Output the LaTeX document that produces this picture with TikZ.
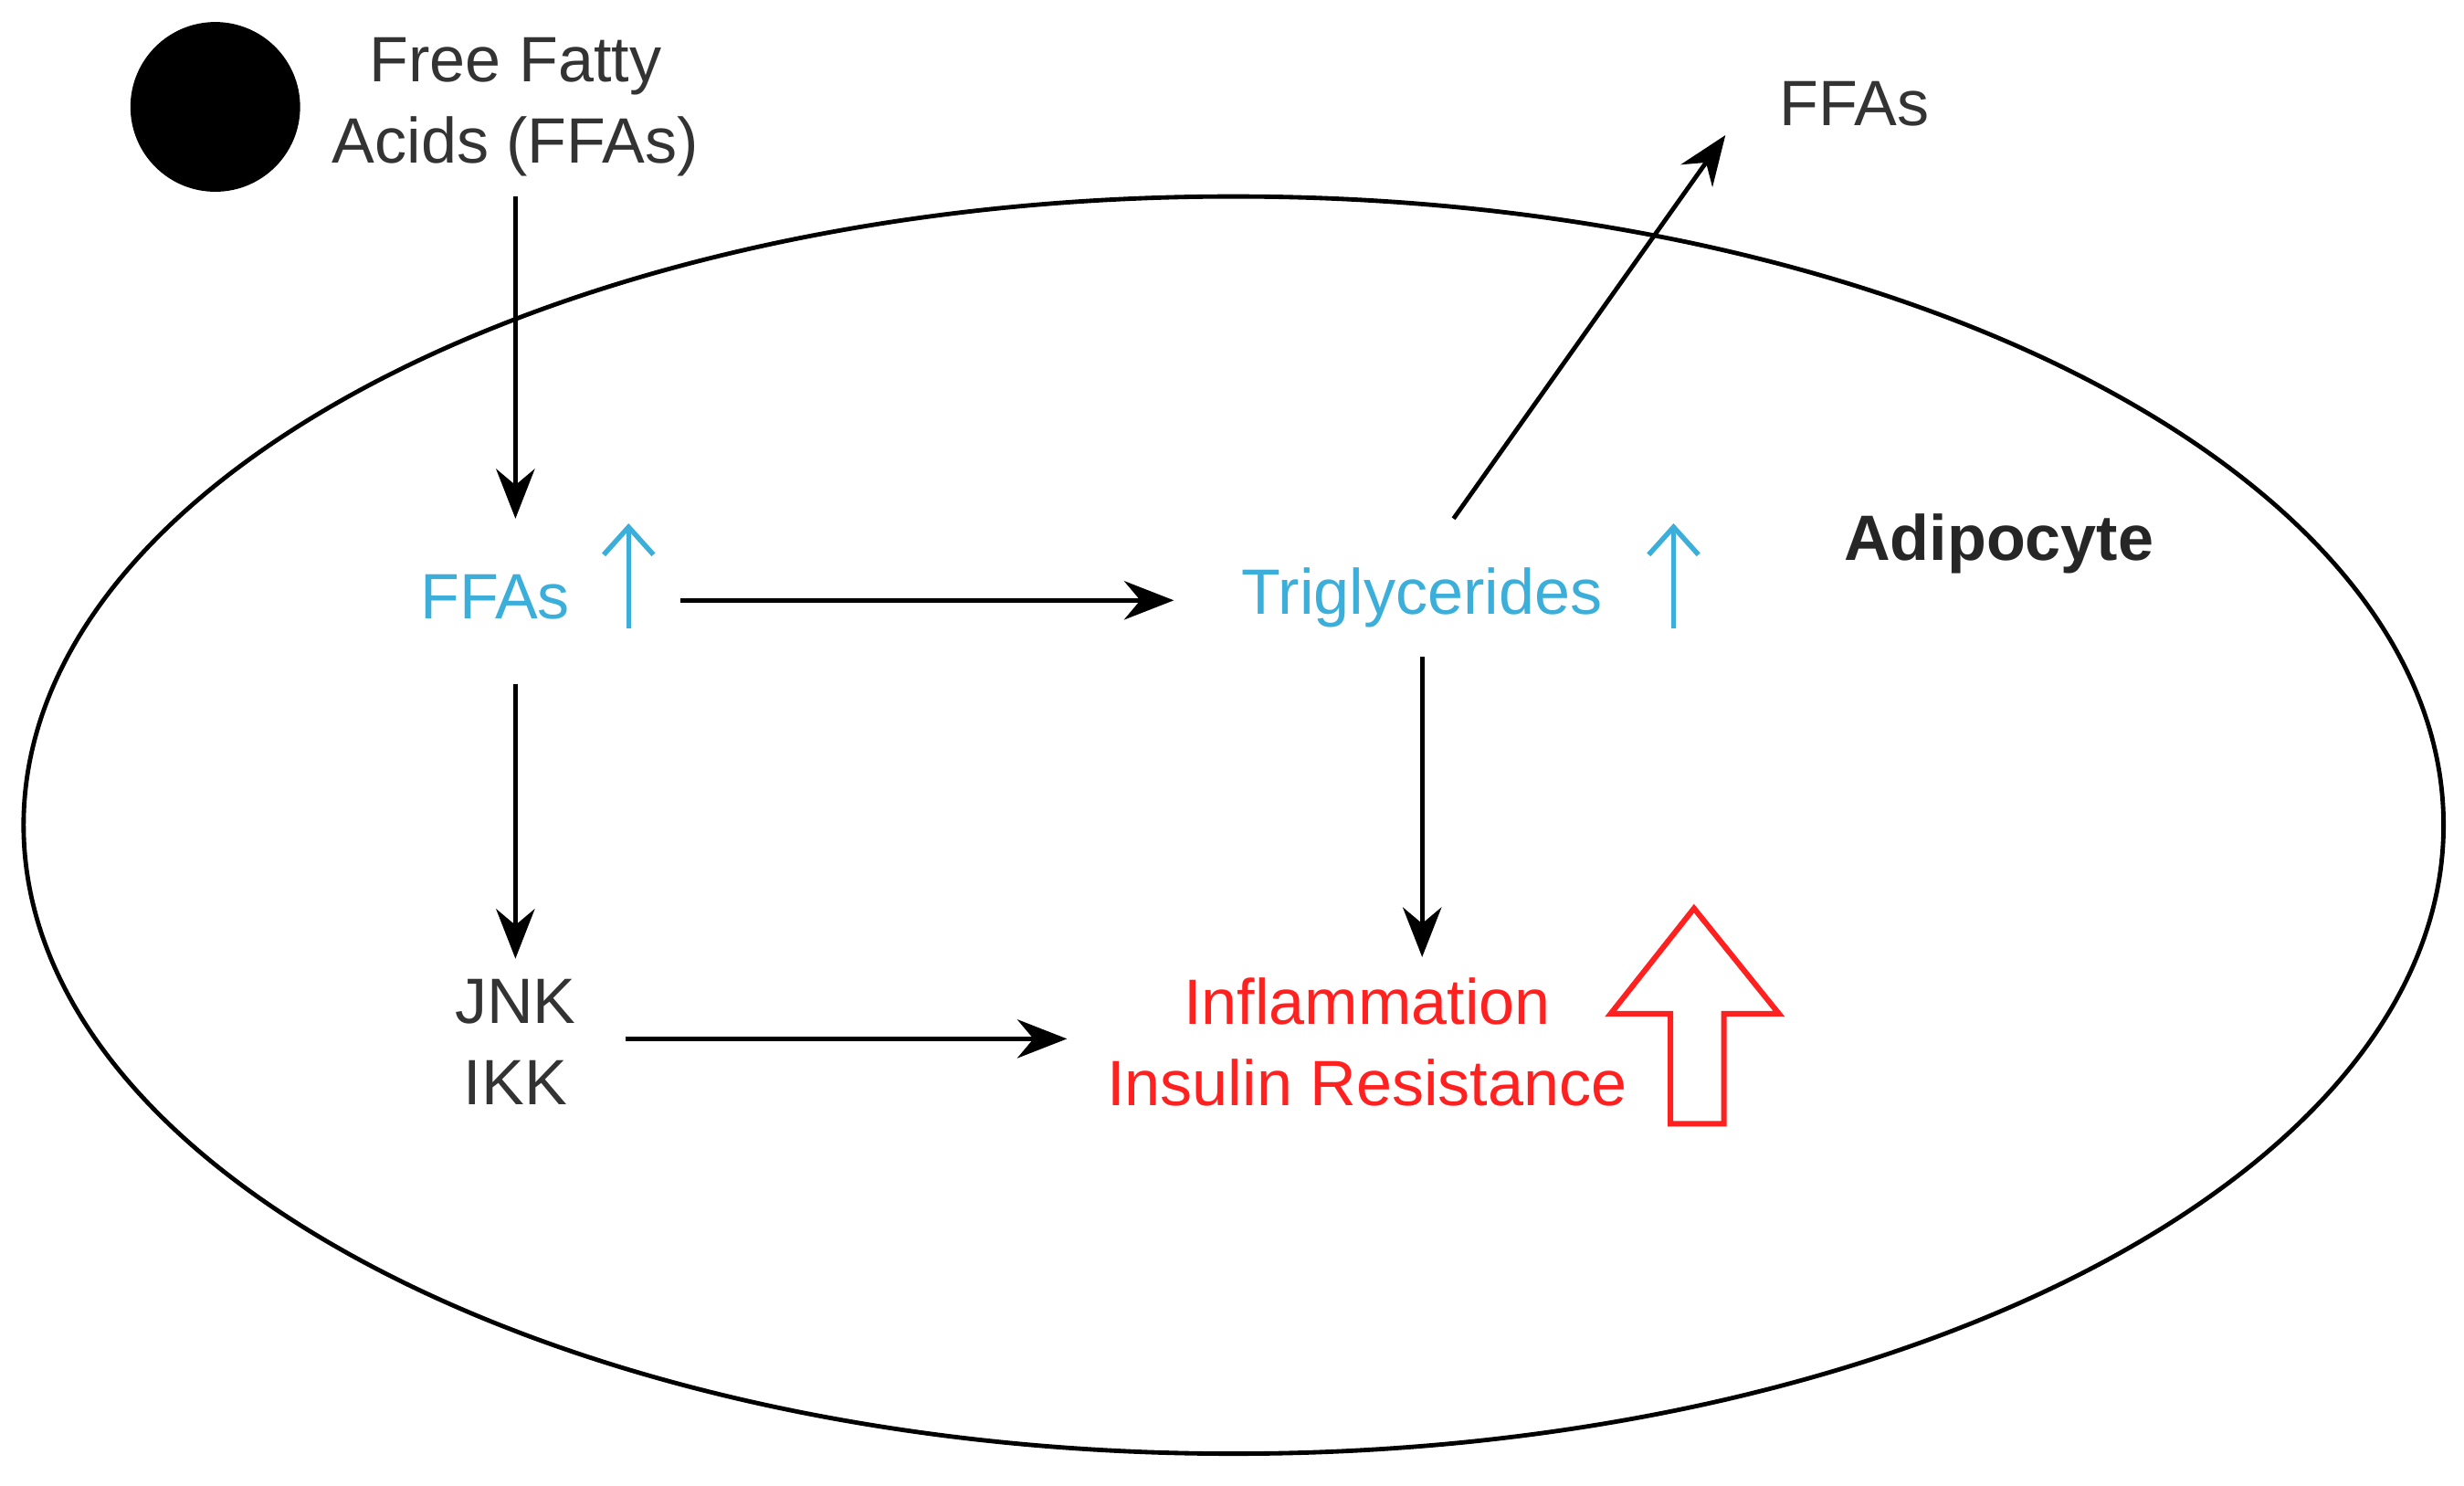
\documentclass[tikz,border=0pt]{standalone}
\usepackage{fontspec}
\setmainfont{Liberation Sans}
\usetikzlibrary{arrows.meta,shapes.geometric}
\definecolor{cblue}{HTML}{3BAEDA}
\definecolor{cred}{HTML}{FF2020}
\begin{document}
\begin{tikzpicture}[x=0.1mm,y=-0.1mm,
  txt/.style={font=\fontsize{11.6pt}{14.6pt}\selectfont, align=center, inner sep=0},
  arr/.style={line width=0.8pt, -{Stealth[length=9pt,width=7pt]}},
  uparr/.style={cblue, line width=0.9pt, -{Straight Barb[length=5pt,width=9pt]}}]
\useasboundingbox (0,0) rectangle (1568,945);
\node[draw, ellipse, line width=0.8pt, minimum width=154mm, minimum height=80mm, inner sep=0] (cell) at (785,525) {};
\fill (137,68) circle (54);
\node[txt, text=black!80] (ffa0) at (328,68) {Free Fatty\\Acids (FFAs)};
\node[txt, text=black!80] (ffaout) at (1180,66) {FFAs};
\node[txt, text=cblue] (ffa) at (315,380) {FFAs};
\node[txt, text=cblue] (tg) at (905,380) {Triglycerides};
\node[txt, font=\fontsize{11.6pt}{14pt}\selectfont\bfseries, text=black!85] (adi) at (1272,346) {Adipocyte};
\node[txt, text=black!80] (jnk) at (328,663) {JNK\\IKK};
\node[txt, text=cred] (infl) at (870,663) {Inflammation\\Insulin Resistance};
\coordinate (u1a) at (400,400); \coordinate (u1b) at (400,333);
\coordinate (u2a) at (1065,400); \coordinate (u2b) at (1065,333);
\draw[uparr] (u1a) -- (u1b);
\draw[uparr] (u2a) -- (u2b);
\draw[cred, line width=1pt, fill=white] (1063,715) -- (1097,715) -- (1097,645) -- (1132,645) -- (1078,578) -- (1025,645) -- (1063,645) -- cycle;
\coordinate (a1) at (328,125); \coordinate (a1e) at (328,330);
\draw[arr] (a1) -- (a1e);
\coordinate (a2) at (433,382); \coordinate (a2e) at (747,382);
\draw[arr] (a2) -- (a2e);
\coordinate (a3) at (328,435); \coordinate (a3e) at (328,610);
\draw[arr] (a3) -- (a3e);
\coordinate (a4) at (905,418); \coordinate (a4e) at (905,609);
\draw[arr] (a4) -- (a4e);
\coordinate (a5) at (398,661); \coordinate (a5e) at (679,661);
\draw[arr] (a5) -- (a5e);
\coordinate (a6) at (925,330); \coordinate (a6e) at (1098,86);
\draw[arr] (a6) -- (a6e);
\end{tikzpicture}
\end{document}
